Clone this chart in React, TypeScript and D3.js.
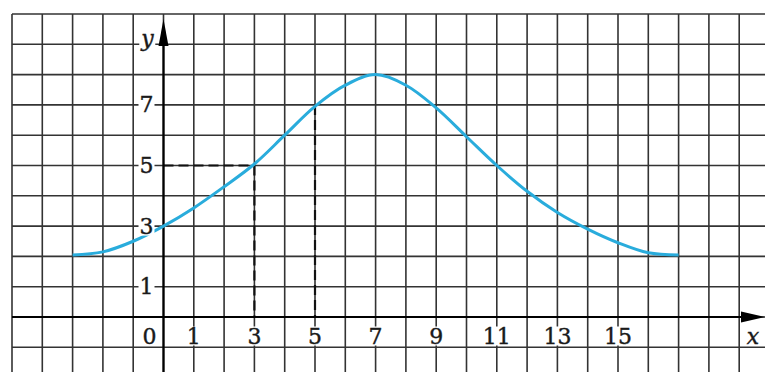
import React, { useRef, useEffect } from 'react';
import * as d3 from 'd3';

// points (x in grid units, y in grid units)
const curveX = [-3, -2, -1, 0, 1, 2, 3, 4, 5, 6, 7, 8, 9, 10, 11, 12, 13, 14, 15, 16, 17];
const curveY = [2.05, 2.15, 2.5, 3, 3.6, 4.3, 5.05, 6, 6.95, 7.65, 8, 7.65, 6.9, 5.95, 5.0, 4.15, 3.45, 2.9, 2.45, 2.12, 2.05];

const xTickLabels = [1, 3, 5, 7, 9, 11, 13, 15];
const yTickLabels = [1, 3, 5, 7];

// dashed guides: [x, y] points on the curve
const guidePoints = [
  [3, 5],
  [5, 7],
];

const W = 765;
const H = 372;

const App = () => {
  const svgRef = useRef<SVGSVGElement>(null);

  useEffect(() => {
    const svg = d3.select(svgRef.current);
    svg.selectAll('*').remove();

    const unit = 30.3;
    const left = 12;
    const top = 14;
    const x = d3.scaleLinear().domain([-5, 20]).range([left, left + 25 * unit]);
    const y = d3.scaleLinear().domain([0, 10]).range([top + 10 * unit, top]);

    svg.append('rect').attr('width', W).attr('height', H).attr('fill', '#fff');

    const grid = svg.append('g').attr('stroke', '#333').attr('stroke-width', 1.6);

    // vertical grid lines
    grid.selectAll('.vline')
      .data(d3.range(-5, 20))
      .enter().append('line')
      .attr('x1', d => x(d))
      .attr('x2', d => x(d))
      .attr('y1', y(10))
      .attr('y2', H);

    // horizontal grid lines
    grid.selectAll('.hline')
      .data(d3.range(-1, 11))
      .enter().append('line')
      .attr('x1', x(-5))
      .attr('x2', W)
      .attr('y1', d => y(d))
      .attr('y2', d => y(d));

    // dashed guides
    const guides = svg.append('g')
      .attr('stroke', '#111')
      .attr('stroke-width', 2.2)
      .attr('stroke-dasharray', '10,5');
    guidePoints.forEach(([gx, gy], i) => {
      guides.append('line')
        .attr('x1', x(gx)).attr('x2', x(gx))
        .attr('y1', y(gy)).attr('y2', y(0));
      if (i === 0) {
        guides.append('line')
          .attr('x1', x(0)).attr('x2', x(gx))
          .attr('y1', y(gy)).attr('y2', y(gy));
      }
    });

    // axes
    const axes = svg.append('g').attr('stroke', '#000').attr('stroke-width', 2.2);
    axes.append('line')
      .attr('x1', x(0)).attr('x2', x(0))
      .attr('y1', H).attr('y2', 30);
    axes.append('line')
      .attr('x1', x(-5)).attr('x2', W - 12)
      .attr('y1', y(0)).attr('y2', y(0));

    svg.append('path')
      .attr('d', `M${x(0)},19 L${x(0) - 5},46 L${x(0) + 5},46 Z`)
      .attr('fill', '#000');
    svg.append('path')
      .attr('d', `M${W},${y(0)} L${W - 24},${y(0) - 5.5} L${W - 24},${y(0) + 5.5} Z`)
      .attr('fill', '#000');

    // curve
    const line = d3.line<number>()
      .x((d, i) => x(curveX[i]))
      .y(d => y(d))
      .curve(d3.curveCatmullRom.alpha(0.5));
    svg.append('path')
      .datum(curveY)
      .attr('d', line)
      .attr('fill', 'none')
      .attr('stroke', '#29acdc')
      .attr('stroke-width', 3);

    const font = '"DejaVu Serif", serif';

    const addLabel = (text: string, cx: number, cy: number, italic = false) => {
      const t = svg.append('text')
        .attr('x', cx)
        .attr('y', cy)
        .attr('text-anchor', 'middle')
        .attr('dominant-baseline', 'central')
        .attr('font-family', font)
        .attr('font-size', 22)
        .attr('font-style', italic ? 'italic' : 'normal')
        .attr('fill', '#1a1a1a')
        .attr('stroke', '#1a1a1a')
        .attr('stroke-width', 0.4)
        .text(text);
      const bb = (t.node() as SVGTextElement).getBBox();
      svg.insert('rect', () => t.node())
        .attr('x', bb.x - 1)
        .attr('y', bb.y + 3)
        .attr('width', bb.width + 2)
        .attr('height', bb.height - 6)
        .attr('fill', '#fff');
    };

    xTickLabels.forEach(v => addLabel(String(v), x(v), y(0) + 19));
    addLabel('0', x(0) - 14, y(0) + 19);
    yTickLabels.forEach(v => addLabel(String(v), x(0) - 17, y(v)));
    addLabel('y', x(0) - 16, 38, true);
    addLabel('x', W - 12, y(0) + 19, true);
  }, []);

  return (
    <div style={{ position: 'absolute', left: 0, top: 0, width: W, height: H }}>
      <svg ref={svgRef} width={W} height={H} style={{ display: 'block' }}></svg>
    </div>
  );
};

export default App;
